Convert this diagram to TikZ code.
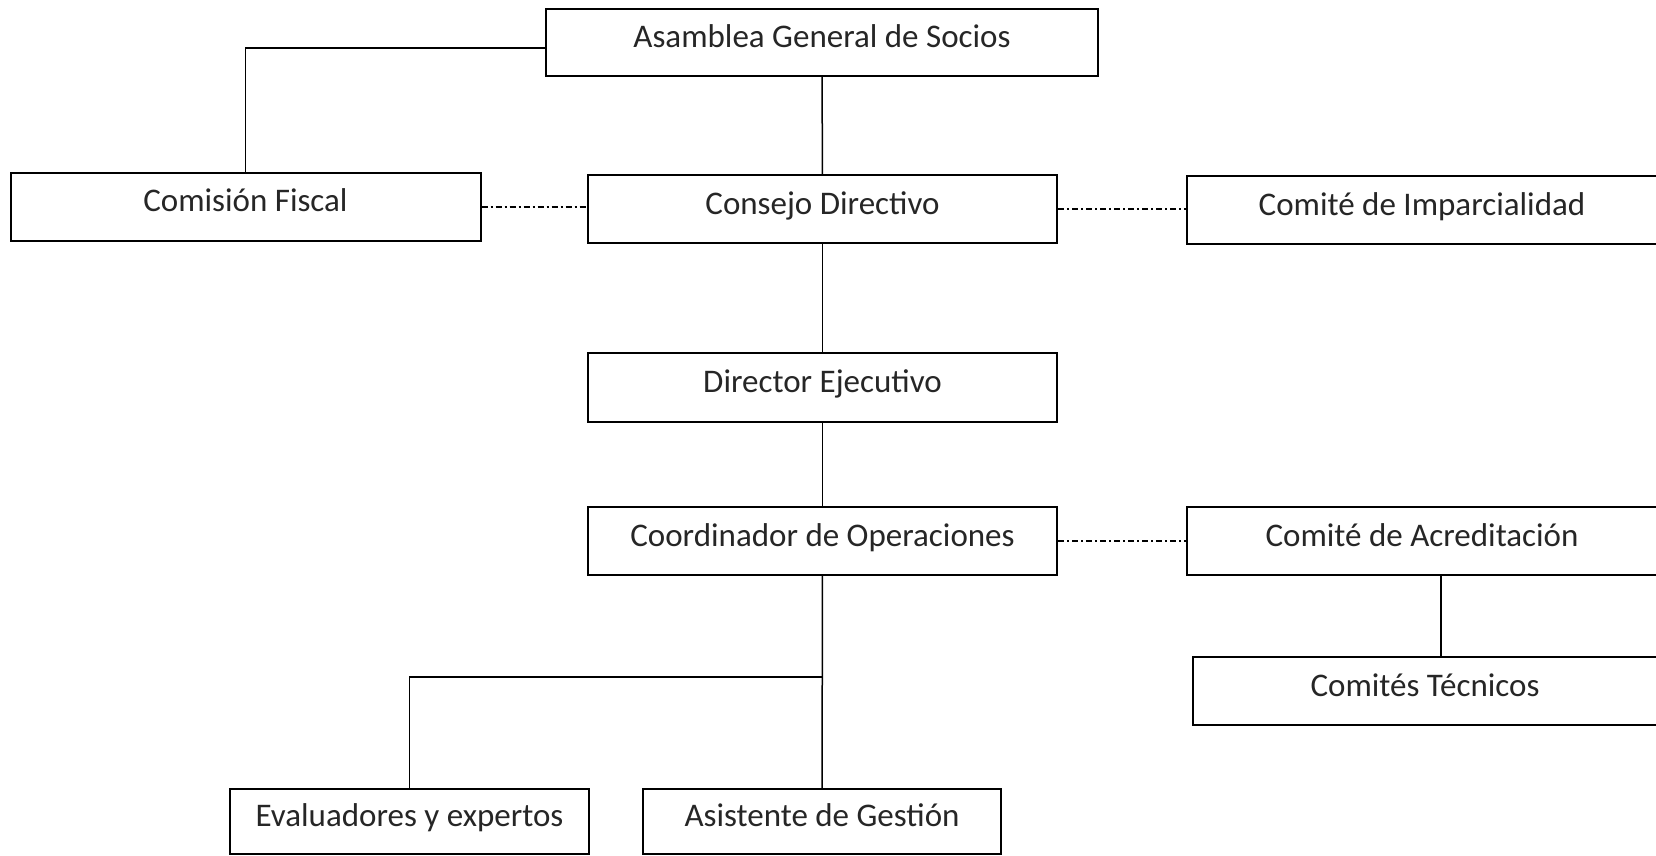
\documentclass[tikz,border=0pt]{standalone}
\usepackage{fontspec}
\setmainfont{Carlito}
\usetikzlibrary{positioning,calc}

\begin{document}
\begin{tikzpicture}[x=0.5pt, y=-0.5pt,
	orgbox/.style={draw, line width=1pt, fill=white, inner sep=0pt,
		minimum height=34pt, text height=10pt, text depth=5pt, text=black!85,
		font=\fontsize{16.5}{19}\selectfont},
	link/.style={line width=0.75pt},
	peer/.style={line width=0.75pt, dash pattern=on 3pt off 1.5pt on 1pt off 1.5pt}]

\useasboundingbox (0,0) rectangle (1656,856);

\node[orgbox, minimum width=276pt, minimum height=33.5pt] (asamblea) at (822,42.5) {Asamblea General de Socios};
\node[orgbox, minimum width=235pt] (comision) at (245.5,207) {Comisión Fiscal};
\node[orgbox, minimum width=234.5pt] (consejo) at (822.5,209) {Consejo Directivo};
\node[orgbox, minimum width=235pt] (imparcial) at (1422,210) {Comité de Imparcialidad};
\node[orgbox, minimum width=234.5pt, minimum height=34.5pt] (director) at (822.5,387.5) {Director Ejecutivo};
\node[orgbox, minimum width=234.5pt] (coordinador) at (822.5,541) {Coordinador de Operaciones};
\node[orgbox, minimum width=235pt] (acreditacion) at (1422,541) {Comité de Acreditación};
\node[orgbox, minimum width=232pt] (tecnicos) at (1425,691) {Comités Técnicos};
\node[orgbox, minimum width=179.5pt, minimum height=32.5pt] (evaluadores) at (409.5,821.5) {Evaluadores y expertos};
\node[orgbox, minimum width=179pt, minimum height=32.5pt] (asistente) at (822,821.5) {Asistente de Gestión};

\coordinate (split) at (822,677);

\draw[link] ([yshift=-2.75pt]asamblea.west) -| (comision.north);
\draw[link] (asamblea) -- (consejo);
\draw[link] (consejo) -- (director);
\draw[link] (director) -- (coordinador);
\draw[link] (coordinador) -- (asistente);
\draw[link] (split) -| (evaluadores.north);
\draw[link] ([xshift=9.5pt]acreditacion.south) -- ([xshift=9.5pt]acreditacion.south |- tecnicos.north);

\draw[peer] (comision.east) -- (comision.east -| consejo.west);
\draw[peer] (consejo.east) -- (consejo.east -| imparcial.west);
\draw[peer] (coordinador) -- (acreditacion);

\end{tikzpicture}
\end{document}
